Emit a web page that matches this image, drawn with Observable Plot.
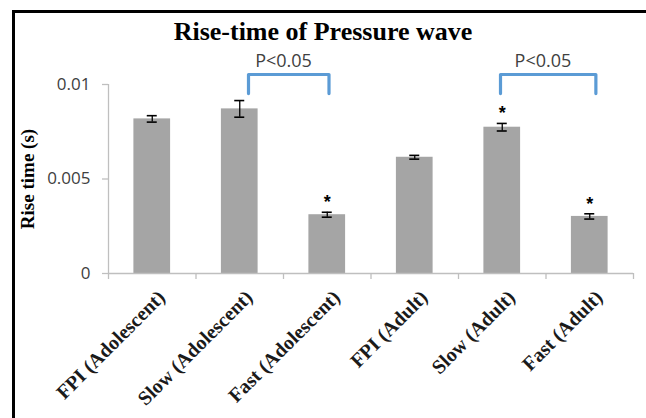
<!DOCTYPE html>
<html>
<head>
<meta charset="utf-8">
<script src="https://cdn.jsdelivr.net/npm/d3@7"></script>
<script src="https://cdn.jsdelivr.net/npm/@observablehq/plot@0.6"></script>
<style>
  html, body { margin: 0; padding: 0; background: #fff; overflow: hidden; }
  #wrap { position: relative; width: 646px; height: 418px; overflow: hidden; background: #fff; }
  #frame { position: absolute; left: 12px; top: 10px; width: 634px; height: 408px;
           border-left: 3px solid #000; border-top: 3px solid #000; border-right: none; border-bottom: none; box-sizing: border-box; }
  #title { position: absolute; left: 0; top: 19px; width: 646px; text-align: center;
           font: bold 26px "Liberation Serif", "Times New Roman", serif; line-height: 26px; color: #000; }
  #chart { position: absolute; left: 0; top: 0; }
</style>
</head>
<body>
<div id="wrap">
  <div id="frame"></div>
  <div id="chart"></div>
  <div id="title">Rise-time of Pressure wave</div>
</div>
<script>
// ---- data ----
const categories = ["FPI (Adolescent)", "Slow (Adolescent)", "Fast (Adolescent)", "FPI (Adult)", "Slow (Adult)", "Fast (Adult)"];
const means  = [0.00818, 0.00871, 0.00311, 0.00615, 0.00774, 0.00302];
const errors = [0.00017, 0.00044, 0.00013, 0.00010, 0.00020, 0.00014];
const starred = [false, false, true, false, true, true];
const yTicks = [0, 0.005, 0.01];
const yTickLabels = ["0", "0.005", "0.01"];
const yLabel = "Rise time (s)";
// significance brackets (x in category-slot units, y in seconds)
const bracketLeft   = [1.60, 4.48];
const bracketRight  = [2.52, 5.57];
const bracketTop    = [0.01053, 0.01053];
const bracketBottom = [0.00952, 0.00952];
const bracketText   = ["P<0.05", "P<0.05"];

const rows = categories.map((c, i) => ({c, i, mean: means[i], lo: means[i] - errors[i], hi: means[i] + errors[i], star: starred[i]}));
const brackets = bracketText.map((t, k) => ({k, t, l: bracketLeft[k], r: bracketRight[k], top: bracketTop[k], bot: bracketBottom[k]}));
const bracketPts = brackets.flatMap(b => [
  {k: b.k, x: b.l, y: b.bot}, {k: b.k, x: b.l, y: b.top},
  {k: b.k, x: b.r, y: b.top}, {k: b.k, x: b.r, y: b.bot}
]);

const gray = "#bfbfbf";
const chart = Plot.plot({
  width: 646,
  height: 418,
  marginLeft: 108,
  marginRight: 13,
  marginTop: 84,
  marginBottom: 145,
  style: {background: "transparent", overflow: "visible"},
  x: {domain: [0, categories.length], axis: null},
  y: {domain: [0, 0.01], axis: null},
  marks: [
    Plot.rectY(rows, {x1: d => d.i, x2: d => d.i + 1, y1: 0, y2: "mean", insetLeft: 25.4, insetRight: 25.4, fill: "#a5a5a5"}),
    Plot.ruleY([0], {x1: 0, x2: categories.length, stroke: gray, strokeWidth: 1.3}),
    Plot.ruleX([0], {y1: 0, y2: 0.01, stroke: gray, strokeWidth: 1.3}),
    Plot.axisX(d3.range(categories.length + 1), {tickSize: 6, tickFormat: () => "", label: null, stroke: gray, strokeWidth: 1.3}),
    Plot.axisY(yTicks, {tickSize: 6, tickPadding: 12, stroke: gray, strokeWidth: 1.3,
      tickFormat: d => yTickLabels[yTicks.indexOf(d)], fill: "#404040",
      fontSize: 17, fontFamily: "Open Sans", label: null}),
    Plot.text([yLabel], {frameAnchor: "left", rotate: -90, dx: -75, textAnchor: "middle", lineAnchor: "bottom",
      fontSize: 19, fontWeight: "bold", fontFamily: "Liberation Serif", fill: "#000"}),
    Plot.text(rows, {x: d => d.i + 0.5, frameAnchor: "bottom", text: "c", rotate: -45, textAnchor: "end",
      lineAnchor: "top", dx: 4, dy: 15, fontSize: 20, fontWeight: "bold", fontFamily: "Liberation Serif", fill: "#1a1a1a"}),
    Plot.ruleX(rows, {x: d => d.i + 0.5, y1: "lo", y2: "hi", stroke: "#000", strokeWidth: 1.3}),
    Plot.ruleY(rows, {y: "hi", x1: d => d.i + 0.5, x2: d => d.i + 0.5, insetLeft: -5, insetRight: -5, stroke: "#000", strokeWidth: 1.6}),
    Plot.ruleY(rows, {y: "lo", x1: d => d.i + 0.5, x2: d => d.i + 0.5, insetLeft: -5, insetRight: -5, stroke: "#000", strokeWidth: 1.6}),
    Plot.text(rows.filter(d => d.star), {x: d => d.i + 0.5, y: "hi", text: () => "*", dy: -10,
      fontSize: 18, fontWeight: "bold", fontFamily: "Liberation Sans", fill: "#000"}),
    Plot.line(bracketPts, {x: "x", y: "y", z: "k", stroke: "#5b9bd5", strokeWidth: 3.2, strokeLinecap: "round"}),
    Plot.text(brackets, {x: d => (d.l + d.r) / 2 - 0.06, y: "top", text: "t", dy: -7, lineAnchor: "bottom",
      fontSize: 18, fontFamily: "Open Sans", fill: "#404040"})
  ]
});
document.getElementById("chart").appendChild(chart);
</script>
</body>
</html>
